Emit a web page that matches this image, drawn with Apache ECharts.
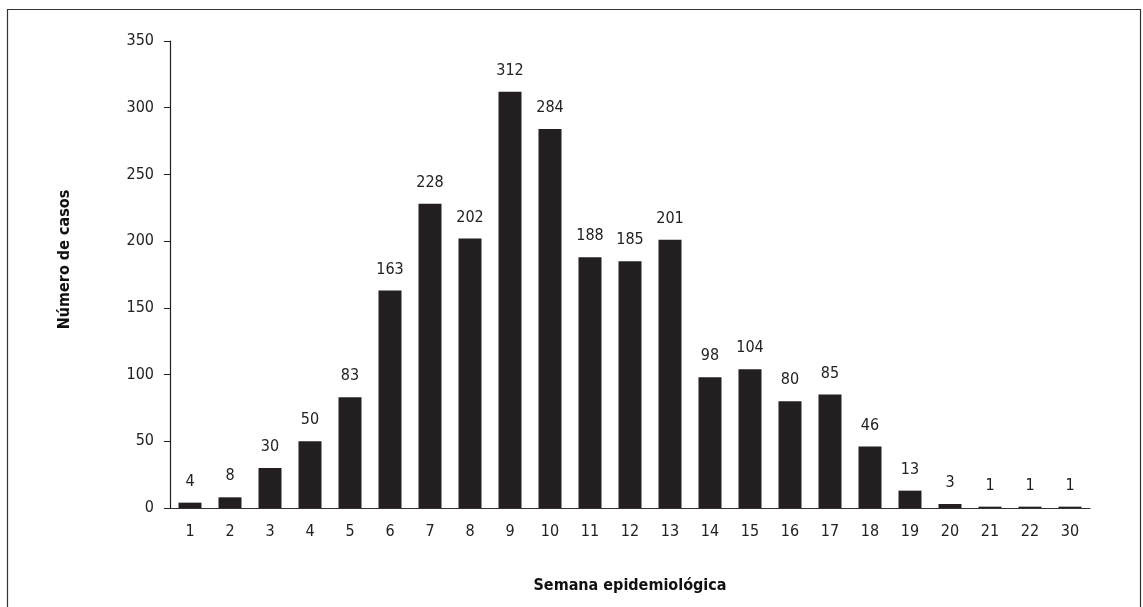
<!DOCTYPE html>
<html><head><meta charset="utf-8">
<script src="https://cdn.jsdelivr.net/npm/echarts@6/dist/echarts.min.js"></script>
<style>html,body{margin:0;padding:0;background:#fff}#c{width:1143px;height:607px}</style>
</head><body><div id="c"></div>
<script>
const categories = ['1','2','3','4','5','6','7','8','9','10','11','12','13','14','15','16','17','18','19','20','21','22','30'];
const cases = [4,8,30,50,83,163,228,202,312,284,188,185,201,98,104,80,85,46,13,3,1,1,1];
const yTicks = [0,50,100,150,200,250,300,350];

const FONT = "'Liberation Sans Narrow','DejaVu Sans Condensed','Roboto Condensed',sans-serif";
const chart = echarts.init(document.getElementById('c'));
chart.setOption({
  animation: false,
  graphic: [{
    type: 'polyline',
    shape: { points: [[7.5, 607], [7.5, 9.5], [1140.5, 9.5], [1140.5, 607]] },
    style: { stroke: '#333', lineWidth: 1.2, fill: null }
  }],
  grid: { left: 170, right: 53, top: 41, bottom: 99 },
  xAxis: {
    type: 'category', data: categories,
    name: 'Semana epidemiológica', nameLocation: 'middle', nameGap: 70,
    nameTextStyle: { fontFamily: FONT, fontWeight: 'bold', fontSize: 16, color: '#111' },
    axisLine: { lineStyle: { color: '#333', width: 1.2 } },
    axisTick: { show: false },
    axisLabel: { fontFamily: FONT, fontSize: 16, color: '#222', margin: 16 }
  },
  yAxis: {
    type: 'value', min: 0, max: 350, interval: 50,
    name: 'Número de casos', nameLocation: 'middle', nameGap: 97,
    nameTextStyle: { fontFamily: FONT, fontWeight: 'bold', fontSize: 16, color: '#111', padding: [0, 0, 0, 30] },
    axisLine: { show: true, lineStyle: { color: '#222', width: 1.2 } },
    axisTick: { show: true, length: 6, lineStyle: { color: '#222' } },
    splitLine: { show: false },
    axisLabel: { fontFamily: FONT, fontSize: 16, color: '#222', margin: 16,
      formatter: v => yTicks.includes(v) ? String(v) : '' }
  },
  series: [{
    type: 'bar', data: cases, barWidth: 23,
    itemStyle: { color: '#231f20' },
    label: { show: true, position: 'top', distance: 13, fontFamily: FONT, fontSize: 16, color: '#222' }
  }]
});
</script></body></html>
